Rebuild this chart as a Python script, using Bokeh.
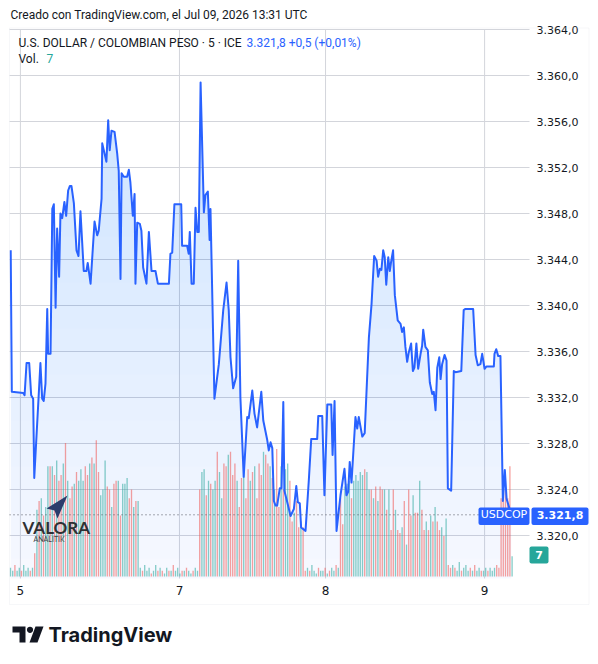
import numpy as np
from bokeh.plotting import figure
from bokeh.models import (Range1d, Label, BoxAnnotation, PolyAnnotation, ColumnDataSource)
from bokeh.core.properties import value
from bokeh.embed import file_html
from bokeh.resources import INLINE

# ---------------- data ----------------
# price path: (5-minute bar index, USDCOP price)
price_points = [
    (0.1, 3344.8), (0.6, 3332.5), (5.8, 3332.4), (6.4, 3332.2), (7.3, 3335.0), (8.5, 3335.0), (9.4, 3332.2), (10.3, 3331.9), (10.8, 3325.0), (13.6, 3335.0),
    (14.4, 3331.9), (15.1, 3331.7), (15.9, 3333.2), (16.7, 3339.7), (17.1, 3335.8), (18.2, 3335.8), (19.0, 3348.4), (19.7, 3348.8), (20.5, 3339.8), (21.2, 3346.7),
    (22.1, 3342.5), (22.7, 3348.0), (23.5, 3347.6), (24.5, 3349.0), (25.3, 3347.8), (26.2, 3350.0), (27.0, 3350.4), (27.7, 3350.4), (28.8, 3348.9), (30.0, 3344.8),
    (30.9, 3344.3), (31.8, 3348.2), (33.3, 3343.0), (34.5, 3343.0), (35.1, 3343.7), (36.4, 3341.9), (38.2, 3347.3), (39.4, 3346.1), (40.1, 3346.5), (41.4, 3349.3),
    (41.7, 3354.1), (43.6, 3352.5), (44.4, 3356.1), (45.1, 3353.5), (45.9, 3355.2), (47.3, 3355.1), (48.5, 3353.2), (49.2, 3351.7), (50.0, 3342.3), (50.5, 3351.5),
    (51.5, 3351.2), (53.0, 3351.2), (53.8, 3351.8), (54.5, 3350.7), (55.6, 3347.8), (56.4, 3349.7), (56.8, 3341.9), (57.6, 3347.2), (58.8, 3347.1), (59.5, 3346.5),
    (60.3, 3343.3), (61.8, 3341.9), (62.9, 3346.4), (64.1, 3343.0), (65.9, 3343.0), (67.0, 3341.9), (72.0, 3341.9), (72.7, 3344.5), (73.5, 3344.6), (74.5, 3348.8),
    (77.6, 3348.8), (78.0, 3345.2), (80.3, 3345.2), (81.0, 3344.5), (81.5, 3346.4), (82.3, 3341.9), (83.3, 3341.9), (84.1, 3348.5), (84.9, 3346.4), (85.6, 3346.4),
    (86.4, 3359.4), (87.9, 3348.1), (88.6, 3349.6), (89.7, 3349.9), (90.5, 3345.7), (90.9, 3348.4), (92.7, 3331.9), (94.7, 3334.9), (96.7, 3339.6), (98.2, 3342.0),
    (99.2, 3339.6), (100.0, 3335.5), (101.2, 3332.8), (102.6, 3333.8), (103.5, 3343.9), (104.5, 3332.0), (106.0, 3325.1), (107.6, 3330.3), (108.3, 3330.2), (109.9, 3332.6),
    (110.9, 3330.6), (112.1, 3329.4), (114.0, 3332.5), (114.9, 3330.0), (116.7, 3328.3), (117.4, 3327.4), (118.2, 3328.1), (119.0, 3327.6), (119.7, 3323.0), (120.5, 3322.6),
    (121.2, 3322.6), (122.4, 3324.1), (123.2, 3324.1), (124.0, 3331.6), (124.5, 3323.9), (125.8, 3322.9), (127.3, 3321.7), (128.8, 3322.3), (129.9, 3324.3), (130.6, 3322.9),
    (131.5, 3322.8), (132.1, 3320.7), (134.1, 3320.4), (135.6, 3324.8), (136.7, 3328.4), (139.4, 3328.4), (139.9, 3330.4), (141.7, 3330.4), (142.7, 3323.5), (144.0, 3331.4),
    (145.8, 3331.4), (146.4, 3327.0), (147.3, 3331.7), (148.2, 3320.4), (150.0, 3323.5), (151.8, 3325.8), (152.7, 3323.5), (153.5, 3323.8), (154.2, 3326.4), (155.0, 3324.6),
    (156.8, 3330.3), (157.6, 3329.3), (158.3, 3330.3), (159.9, 3328.6), (161.0, 3328.9), (162.9, 3337.2), (164.1, 3340.1), (165.3, 3344.3), (166.4, 3343.9), (167.1, 3342.5),
    (167.9, 3343.2), (168.6, 3343.1), (169.4, 3344.8), (170.1, 3344.2), (170.8, 3341.8), (171.7, 3344.2), (172.4, 3343.0), (173.0, 3343.8), (173.9, 3344.8), (174.7, 3340.9),
    (176.0, 3338.7), (177.3, 3338.4), (178.0, 3337.7), (178.8, 3338.1), (179.5, 3336.4), (180.3, 3335.1), (181.0, 3335.9), (182.1, 3336.7), (182.9, 3334.3), (183.6, 3334.6),
    (184.5, 3336.7), (185.3, 3334.5), (186.4, 3335.8), (187.1, 3336.5), (187.6, 3337.9), (188.6, 3336.4), (189.7, 3336.1), (190.6, 3333.3), (191.7, 3332.3), (192.4, 3332.5),
    (193.2, 3330.9), (194.0, 3334.6), (194.9, 3335.5), (195.5, 3333.6), (196.2, 3334.9), (197.3, 3335.7), (198.2, 3335.2), (198.8, 3324.1), (200.3, 3323.9), (201.5, 3334.3),
    (202.3, 3334.2), (204.9, 3334.3), (206.0, 3339.6), (206.8, 3339.7), (210.3, 3339.7), (211.4, 3335.7), (212.4, 3334.8), (213.6, 3334.9), (214.4, 3335.8), (215.5, 3334.5),
    (216.4, 3334.7), (219.7, 3334.7), (220.0, 3335.8), (220.8, 3336.2), (221.7, 3335.6), (222.7, 3335.6), (223.8, 3323.0), (224.7, 3325.7), (225.5, 3323.2), (227.6, 3321.8),
]

# volume per 5-minute bar, by stretch of the week
volume_sun_night = [3, 2, 4, 2, 3, 2, 4, 2, 3, 2, 3]
volume_mon_session = [8, 23, 26, 27, 21, 24, 38, 38, 38, 35,
                      40, 33, 35, 39, 46, 33, 27, 31, 32, 36,
                      33, 37, 33, 38, 35, 39, 41, 39, 47, 36,
                      28, 30, 40, 31, 30, 24, 32, 33, 33, 21,
                      32, 32, 34, 27, 30, 24, 26, 26]
volume_mon_night = [3, 2, 4, 2, 3, 1, 2, 4, 2, 3,
                    2, 1, 3, 2, 2, 4, 2, 3, 1, 2,
                    2, 3, 2, 1, 2, 3, 2]
volume_tue_session = [30, 36, 37, 28, 33, 32, 30, 33, 43, 36,
                      27, 39, 38, 42, 43, 35, 39, 33, 24, 34,
                      38, 27, 37, 33, 36, 38, 27, 39, 35, 43,
                      42, 39, 38, 34, 30, 44, 24, 38, 30, 37,
                      39, 33, 19, 22, 26, 17, 19, 17]
volume_tue_night = [2, 3, 2, 4, 2, 1, 3, 2, 2, 3, 1, 2, 3, 2, 4, 3]
volume_wed_session = [27, 18, 31, 32, 33, 27, 33, 35, 33, 36,
                      35, 37, 36, 30, 30, 27, 31, 26, 31, 30,
                      30, 23, 30, 16, 30, 23, 16, 15, 17, 26,
                      11, 30, 21, 28, 22, 22, 33, 23, 16, 19,
                      16, 21, 19, 24, 19, 16, 17, 14, 20]
volume_wed_night = [4, 3, 4, 3, 2, 5, 2, 3, 4, 2, 3, 2, 4, 2, 3, 2, 2, 3, 2, 3, 2, 3, 4, 3]
volume_thu_open = [27, 31, 30, 27, 38, 7]

# bar direction (g = up, r = down), same stretches
dir_sun_night = "ggrggrgggrg"
dir_mon_session = "rgrgrggrgr" "grrgrgrrgr" "gggrrgrgrr" "gggrrgrrgr" "gggrrgrg"
dir_mon_night = "grgggrggrg" "rggrgrgggr" "grggrgg"
dir_tue_session = "rggrgrggrg" "grrgrrrgrr" "grrgrgrrrg" "rrgrgrrgrg" "grrgrrgr"
dir_tue_night = "rgrgggrggrgrggrg"
dir_wed_session = "rrgggrgggg" "grggrgrgrr" "grgrrgrrgr" "grrgrrgrrg" "rgrgrrgrg"
dir_wed_night = "rrgrggrgggrgrggrggrgggrr"
dir_thu_open = "rrrrrg"

day_tick_bars = [4.5, 76.8, 143.2, 215.5]
day_tick_labels = ["5", "7", "8", "9"]
price_ticks = [3320, 3324, 3328, 3332, 3336, 3340, 3344, 3348, 3352, 3356, 3360, 3364]
price_tick_labels = ["3.320,0", "3.324,0", "3.328,0", "3.332,0", "3.336,0", "3.340,0",
                     "3.344,0", "3.348,0", "3.352,0", "3.356,0", "3.360,0", "3.364,0"]
last_price = 3321.8
last_price_text = "3.321,8"
change_text = "3.321,8  +0,5 (+0,01%)"
last_volume_text = "7"
symbol_text = "USDCOP"
title_text = "U.S. DOLLAR / COLOMBIAN PESO · 5 · ICE"
header_text = "Creado con TradingView.com, el Jul 09, 2026 13:31 UTC"

# ---------------- layout ----------------
W, H = 598, 664
FL, FR, FT, FB = 9, 529, 29, 578      # pane of the chart (pixels)
BAR_PX = 2.2                           # pixels per 5-minute bar
PRICE_PX = 11.5                        # pixels per peso
VOL_PX = 2.9                           # pixels per volume unit
VOL_BASE = 576


def X(px):
    return (px - 10) / BAR_PX


def Y(py):
    return 3364.0 - (py - FT) / PRICE_PX


BLUE = "#2962ff"
TEAL = "#26a69a"
RED = "#ef5350"
INK = "#131722"
GRID = "#d3d5db"

p = figure(width=W, height=H, x_range=Range1d(X(0), X(W)), y_range=Range1d(Y(H), Y(0)),
           output_backend="svg", toolbar_location=None, x_axis_location=None,
           y_axis_location=None, min_border=0, outline_line_color=None,
           background_fill_color="white", border_fill_color="white", title=None)
p.grid.visible = False
v0 = -(H - VOL_BASE) / VOL_PX
p.extra_y_ranges = {"vol": Range1d(v0, v0 + H / VOL_PX)}

bx = np.array([q[0] for q in price_points])
bp = np.array([q[1] for q in price_points])

# outer border of the chart
p.add_layout(BoxAnnotation(left=X(9), right=X(588.5), top=Y(27.5), bottom=Y(604),
                           fill_alpha=0, line_color="#e0e3eb", line_width=1))

# grid lines at the tick values
p.segment(x0=day_tick_bars, x1=day_tick_bars, y0=[Y(FB)] * len(day_tick_bars),
          y1=[Y(FT)] * len(day_tick_bars), line_color=GRID, line_width=1)
p.segment(x0=[X(FL)] * len(price_ticks), x1=[X(FR)] * len(price_ticks),
          y0=price_ticks, y1=price_ticks, line_color=GRID, line_width=1)

# gradient area under the price line (stacked translucent layers)
xs = np.union1d(np.linspace(bx[0], bx[-1], 1500), bx)
ys = np.interp(xs, bx, bp)
p.varea(x=xs, y1=Y(FB), y2=ys, fill_color=BLUE, fill_alpha=0.045)
for lvl in np.arange(3318.0, 3360.0, 2.0):
    p.varea(x=xs, y1=lvl, y2=np.maximum(ys, lvl), fill_color=BLUE, fill_alpha=0.0065)

# volume
volumes = (volume_sun_night + volume_mon_session + volume_mon_night + volume_tue_session
           + volume_tue_night + volume_wed_session + volume_wed_night + volume_thu_open)
dirs = (dir_sun_night + dir_mon_session + dir_mon_night + dir_tue_session
        + dir_tue_night + dir_wed_session + dir_wed_night + dir_thu_open)
n = min(len(volumes), len(dirs))
vsrc = ColumnDataSource(dict(x=list(range(n)), top=volumes[:n],
                             color=[TEAL if d == "g" else RED for d in dirs[:n]]))
p.vbar(x="x", top="top", bottom=0, width=0.6, fill_color="color", fill_alpha=0.55,
       line_color=None, source=vsrc, y_range_name="vol")

# price line
p.line(bx, bp, line_color=BLUE, line_width=2, line_join="round")

# last price dotted line
p.segment(x0=[X(FL)], x1=[X(FR)], y0=[last_price], y1=[last_price],
          line_color="#50535e", line_dash="1 3", line_width=1)

# axis labels
p.text(x=[X(536)] * len(price_ticks), y=price_ticks, text=price_tick_labels,
       text_font=value("DejaVu Sans"), text_font_size="11px", text_color=INK,
       text_baseline="middle", text_align="left")
p.text(x=day_tick_bars, y=[Y(590)] * len(day_tick_bars), text=day_tick_labels,
       text_font=value("DejaVu Sans"), text_font_size="12px", text_color=INK,
       text_baseline="middle", text_align="center")

# price / symbol / volume tags
p.add_layout(BoxAnnotation(left=X(478), right=X(529), top=Y(507), bottom=Y(524.5),
                           fill_color=BLUE, fill_alpha=1, line_color=None, border_radius=2))
p.add_layout(BoxAnnotation(left=X(531), right=X(588), top=Y(507), bottom=Y(524.5),
                           fill_color=BLUE, fill_alpha=1, line_color=None, border_radius=2))
p.add_layout(BoxAnnotation(left=X(529), right=X(548), top=Y(546), bottom=Y(563),
                           fill_color=TEAL, fill_alpha=1, line_color=None, border_radius=2))
p.add_layout(Label(x=X(503.5), y=last_price, text=symbol_text, text_color="white",
                   text_font="DejaVu Sans", text_font_size="11px",
                   text_align="center", text_baseline="middle"))
p.add_layout(Label(x=X(559.5), y=last_price, text=last_price_text, text_color="white",
                   text_font="DejaVu Sans", text_font_size="11px", text_font_style="bold",
                   text_align="center", text_baseline="middle"))
p.add_layout(Label(x=X(538.5), y=Y(554.5), text=last_volume_text, text_color="white",
                   text_font="DejaVu Sans", text_font_size="11px", text_font_style="bold",
                   text_align="center", text_baseline="middle"))

# header and legend
p.add_layout(Label(x=X(10), y=Y(14), text=header_text, text_color=INK,
                   text_font="Roboto", text_font_size="12px", text_baseline="middle"))
p.add_layout(Label(x=X(18), y=Y(42), text=title_text, text_color=INK,
                   text_font="Roboto", text_font_size="12px", text_baseline="middle"))
p.add_layout(Label(x=X(246), y=Y(42), text=change_text, text_color=BLUE,
                   text_font="Roboto", text_font_size="12px", text_baseline="middle"))
p.add_layout(Label(x=X(18), y=Y(58), text="Vol.", text_color=INK,
                   text_font="Roboto", text_font_size="12px", text_baseline="middle"))
p.add_layout(Label(x=X(46), y=Y(58), text=last_volume_text, text_color=TEAL,
                   text_font="Roboto", text_font_size="12px", text_baseline="middle"))

# Valora Analitik watermark
p.add_layout(PolyAnnotation(xs=[X(46), X(67), X(57), X(54)], ys=[Y(508), Y(495), Y(518), Y(510)],
                            fill_color="#2b3c6b", fill_alpha=1, line_color=None))
p.add_layout(Label(x=X(22), y=Y(527), text="VALORA", text_color="#2f3033",
                   text_font="Lato", text_font_size="17px", text_font_style="bold",
                   text_baseline="middle"))
p.add_layout(Label(x=X(33), y=Y(538), text="ANALITIK", text_color="#444444",
                   text_font="Lato", text_font_size="7px", text_baseline="middle"))

# TradingView footer logo
p.add_layout(PolyAnnotation(xs=[X(12), X(25), X(25), X(19), X(19), X(12)],
                            ys=[Y(626), Y(626), Y(642), Y(642), Y(632), Y(632)],
                            fill_color=INK, fill_alpha=1, line_color=None))
ang = np.linspace(0, 2 * np.pi, 16, endpoint=False)
p.add_layout(PolyAnnotation(xs=[X(29.5 + 3.1 * np.cos(a)) for a in ang],
                            ys=[Y(629.3 + 3.1 * np.sin(a)) for a in ang],
                            fill_color=INK, fill_alpha=1, line_color=None))
p.add_layout(PolyAnnotation(xs=[X(35), X(43), X(37), X(29)],
                            ys=[Y(626), Y(626), Y(642), Y(642)],
                            fill_color=INK, fill_alpha=1, line_color=None))
p.add_layout(Label(x=X(48), y=Y(634.5), text="TradingView", text_color=INK,
                   text_font="Inter", text_font_size="20px", text_font_style="bold",
                   text_baseline="middle"))

open("out.html", "w").write(file_html(p, INLINE))
